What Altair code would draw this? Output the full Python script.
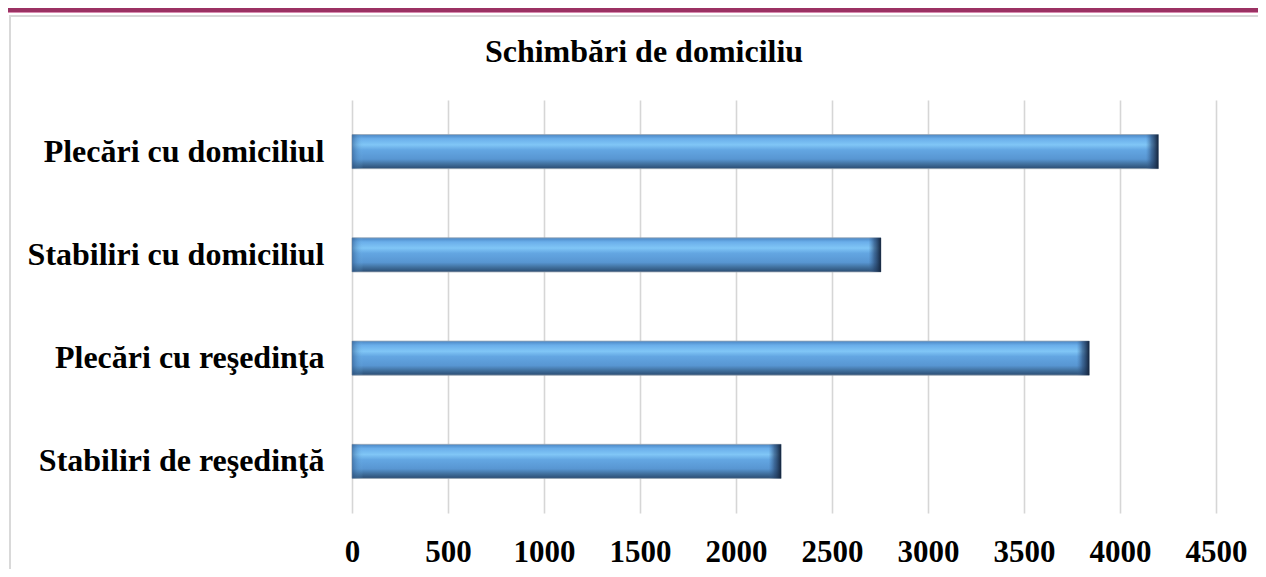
import altair as alt
import pandas as pd

categories = ["Plecări cu domiciliul", "Stabiliri cu domiciliul", "Plecări cu reşedinţa", "Stabiliri de reşedinţă"]
values = [4200, 2755, 3840, 2235]
x_ticks = [0, 500, 1000, 1500, 2000, 2500, 3000, 3500, 4000, 4500]
title_text = "Schimbări de domiciliu"

df = pd.DataFrame({"cat": categories, "val": values})

FONT = "Liberation Serif"
W, H = 864, 413
PL, PT = 344, 92
TOTAL_W, TOTAL_H = 1250, 561

xscale = alt.Scale(domain=[0, 4500], nice=False, zero=True)
yscale = alt.Scale(domain=categories, paddingInner=0.67, paddingOuter=0.335)

grad = alt.Gradient(
    gradient="linear", x1=0, x2=0, y1=0, y2=1,
    stops=[
        alt.GradientStop(offset=0, color="#4a86c4"),
        alt.GradientStop(offset=0.12, color="#6aaeea"),
        alt.GradientStop(offset=0.3, color="#80c6f6"),
        alt.GradientStop(offset=0.45, color="#63a6e2"),
        alt.GradientStop(offset=0.72, color="#5896d2"),
        alt.GradientStop(offset=0.86, color="#41719f"),
        alt.GradientStop(offset=1, color="#2a4c72"),
    ],
)

base = alt.Chart(df)

bars = base.mark_bar(fill=grad, stroke="#9aa7b4", strokeWidth=0.8).encode(
    y=alt.Y("cat:N", sort=categories, scale=yscale,
            axis=alt.Axis(title=None, labelFont=FONT, labelFontSize=32, labelFontWeight="bold",
                          labelColor="#000000", labelPadding=28, ticks=False, domain=False,
                          grid=False, labelLimit=400)),
    x=alt.X("val:Q", scale=xscale,
            axis=alt.Axis(title=None, values=x_ticks, format="d", labelOverlap=False,
                          labelFlush=False, labelBound=False,
                          labelFont=FONT, labelFontSize=31,
                          labelFontWeight="bold", labelColor="#000000", labelPadding=24,
                          ticks=False, domain=False, grid=True, gridColor="#d6d6d6",
                          gridWidth=1.6)),
)

endgrad = alt.Gradient(
    gradient="linear", x1=0, x2=1, y1=0, y2=0,
    stops=[
        alt.GradientStop(offset=0, color="rgba(60,100,150,0)"),
        alt.GradientStop(offset=0.45, color="rgba(40,70,110,0.6)"),
        alt.GradientStop(offset=1, color="#14243c"),
    ],
)
caps = base.transform_calculate(start="datum.val - 65").mark_bar(fill=endgrad).encode(
    y=alt.Y("cat:N", sort=categories, scale=yscale),
    x=alt.X("start:Q", scale=xscale),
    x2="val:Q",
)

startgrad = alt.Gradient(
    gradient="linear", x1=0, x2=1, y1=0, y2=0,
    stops=[
        alt.GradientStop(offset=0, color="rgba(40,80,130,0.55)"),
        alt.GradientStop(offset=1, color="rgba(120,190,240,0)"),
    ],
)
starts = base.transform_calculate(s0="0", s1="60").mark_bar(fill=startgrad).encode(
    y=alt.Y("cat:N", sort=categories, scale=yscale),
    x=alt.X("s0:Q", scale=xscale),
    x2="s1:Q",
)

one = alt.Data(values=[{"t": title_text}])

title = alt.Chart(one).mark_text(
    font=FONT, fontSize=32, fontWeight="bold", color="#000000",
    align="center", baseline="alphabetic",
).encode(text="t:N", x=alt.value(636 - PL), y=alt.value(54 - PT))

band = alt.Chart(one).mark_rule(color="#9b3163", strokeWidth=4).encode(
    x=alt.value(-PL), x2=alt.value(TOTAL_W - PL), y=alt.value(-PT + 2))
band2 = alt.Chart(one).mark_rule(color="#d88cb0", strokeWidth=1).encode(
    x=alt.value(-PL), x2=alt.value(TOTAL_W - PL), y=alt.value(-PT + 4.5))
frame_top = alt.Chart(one).mark_rule(color="#d9d9d9", strokeWidth=2).encode(
    x=alt.value(-PL + 1), x2=alt.value(TOTAL_W - PL), y=alt.value(-PT + 8))
frame_left = alt.Chart(one).mark_rule(color="#d9d9d9", strokeWidth=2).encode(
    x=alt.value(-PL + 2), y=alt.value(-PT + 7), y2=alt.value(TOTAL_H - PT))

chart = alt.layer(bars, starts, caps, title, band, band2, frame_top, frame_left).properties(
    width=W, height=H,
    autosize=alt.AutoSizeParams(type="none"),
    padding={"left": PL, "top": PT, "right": TOTAL_W - PL - W, "bottom": TOTAL_H - PT - H},
).configure(background="#ffffff").configure_view(stroke=None)

chart.save("out.html", embed_options={"renderer": "svg", "actions": False})
